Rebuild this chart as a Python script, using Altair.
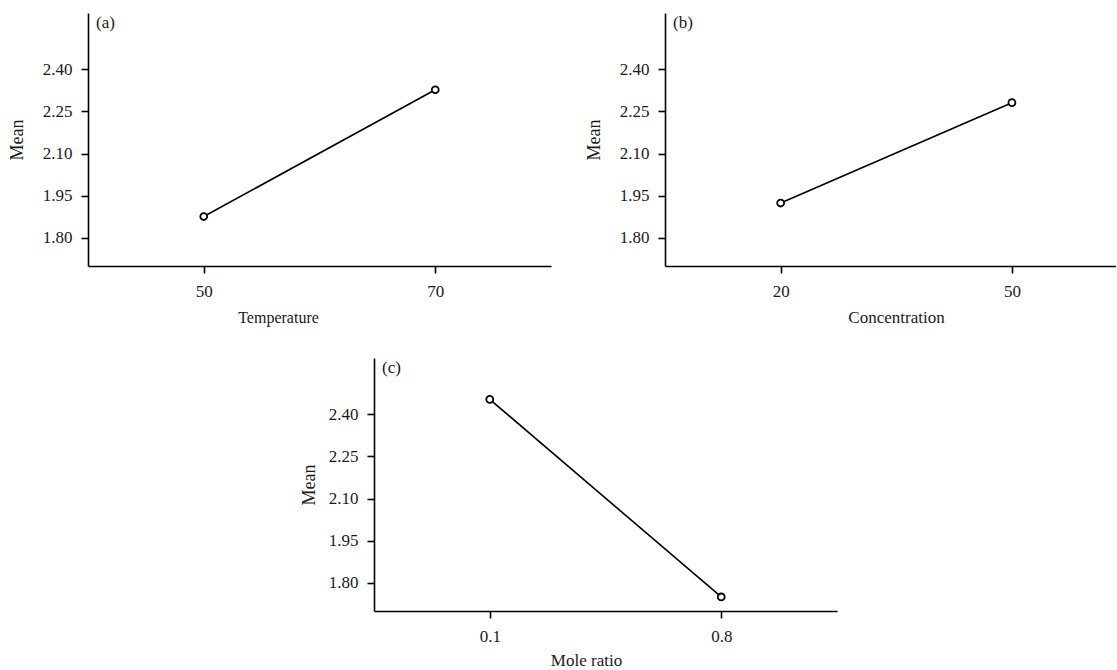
import altair as alt
import pandas as pd

# Main-effect means for the three factors
temperature = [50, 70]
temperature_mean = [1.876, 2.327]

concentration = [20, 50]
concentration_mean = [1.924, 2.281]

mole_ratio = [0.1, 0.8]
mole_ratio_mean = [2.453, 1.750]

mean_ticks = [1.80, 1.95, 2.10, 2.25, 2.40]

SERIF = "Liberation Serif"
INK = "#1a1a1a"


def panel(xs, ys, tag, xtitle, xdomain, xfmt, width, title_x, title_size, ypad, xpad):
    df = pd.DataFrame({"level": xs, "mean": ys})
    x = alt.X(
        "level:Q",
        scale=alt.Scale(domain=xdomain, nice=False, zero=False),
        axis=alt.Axis(values=xs, format=xfmt, title=xtitle, titleX=title_x,
                      titleFontSize=title_size, labelPadding=10, titlePadding=xpad),
    )
    y = alt.Y(
        "mean:Q",
        scale=alt.Scale(domain=[1.70, 2.60], nice=False, zero=False),
        axis=alt.Axis(values=mean_ticks, format=".2f", title="Mean",
                      titleFontSize=18, labelPadding=9, titlePadding=ypad),
    )
    base = alt.Chart(df).encode(x=x, y=y)
    line = base.mark_line(color="black", strokeWidth=1.6)
    dots = base.mark_point(shape="circle", filled=True, fill="white",
                           stroke="black", strokeWidth=1.8, size=48, opacity=1)
    label = alt.Chart(pd.DataFrame({"tag": [tag]})).mark_text(
        font=SERIF, fontSize=17, align="left", baseline="middle", color=INK
    ).encode(text="tag:N", x=alt.value(8), y=alt.value(10))
    return alt.layer(line, dots, label).properties(width=width, height=253)


pa = panel(temperature, temperature_mean, "(a)", "Temperature", [40, 80], "d", 463, 190, 16, 16, 10)
pb = panel(concentration, concentration_mean, "(b)", "Concentration", [5, 63.5], "d", 451, 231, 17, 16, 10)
pc = panel(mole_ratio, mole_ratio_mean, "(c)", "Mole ratio", [-0.25, 1.15], ".1f", 463, 212, 17, 10, 8)

# blank view that pushes the third panel towards the middle of the page
spacer = alt.Chart(pd.DataFrame({"v": [0]})).mark_point(opacity=0).encode(
    x=alt.value(50), y=alt.value(50)
).properties(width=212, height=253)

top = alt.hconcat(pa, pb, spacing=34)
bottom = alt.hconcat(spacer, pc, spacing=0)
chart = alt.vconcat(top, bottom, spacing=33).properties(
    padding={"left": 8, "top": 13, "right": 0, "bottom": 0},
    background="white",
).configure_view(stroke=None).configure_axis(
    domainColor="black", domainWidth=1.6, tickColor="black", tickWidth=1.6,
    tickSize=7, grid=False, labelFont=SERIF, labelFontSize=17, labelColor=INK,
    titleFont=SERIF, titleFontWeight="normal", titleColor=INK,
)

chart.save("out.html", embed_options={"renderer": "svg", "actions": False})
